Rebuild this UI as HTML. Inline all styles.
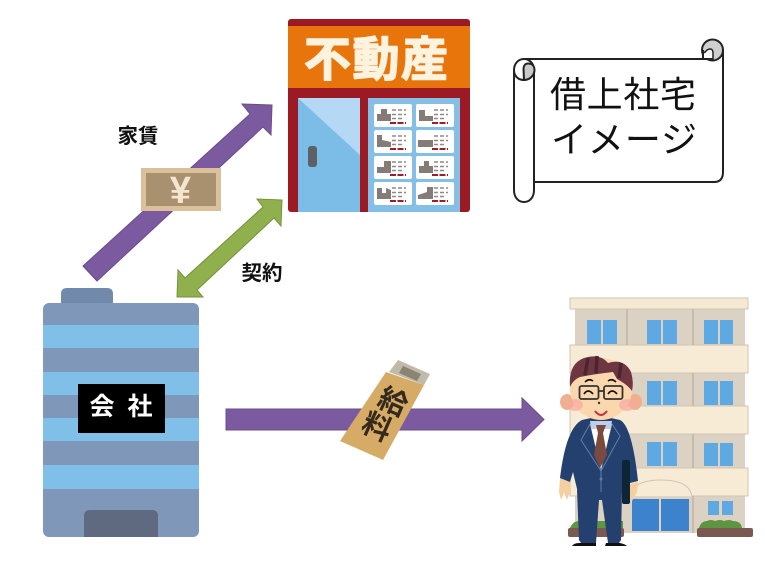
<!DOCTYPE html>
<html lang="ja"><head><meta charset="utf-8"><style>
html,body{margin:0;padding:0;background:#fff}
svg{display:block}
text{font-family:"Liberation Sans","Noto Sans CJK JP",sans-serif}
</style></head><body>
<svg width="765" height="574" viewBox="0 0 765 574" xmlns="http://www.w3.org/2000/svg">
<rect width="765" height="574" fill="#fff"/>

<!-- Real estate shop -->
<rect x="288" y="19" width="182" height="193" rx="3" fill="#9c1a24"/>
<rect x="288" y="26" width="182" height="62" fill="#e8740c"/>
<text x="376" y="76" font-size="47" font-weight="700" fill="#fdf3df" stroke="#fdf3df" stroke-width="1.500" stroke-linejoin="round" text-anchor="middle" textLength="144" lengthAdjust="spacing">不動産</text>
<rect x="298" y="98" width="62" height="114" fill="#7cbde8"/>
<polygon points="298,98 360,98 360,155" fill="#b5d9f4"/>
<rect x="308" y="146" width="9" height="21" rx="3" fill="#5d6065"/>
<rect x="368" y="98" width="92" height="114" fill="#85bfe6"/>
<g id="cards">
<g fill="#fff">
<rect x="374" y="104" width="38" height="23" rx="2"/><rect x="416" y="104" width="38" height="23" rx="2"/>
<rect x="374" y="130" width="38" height="23" rx="2"/><rect x="416" y="130" width="38" height="23" rx="2"/>
<rect x="374" y="156" width="38" height="23" rx="2"/><rect x="416" y="156" width="38" height="23" rx="2"/>
<rect x="374" y="182" width="38" height="23" rx="2"/><rect x="416" y="182" width="38" height="23" rx="2"/>
</g>
<g fill="#857c78">
<polygon points="377,121 377,114 381,114 381,109 387,109 387,114 391,114 391,121"/>
<polygon points="419,121 419,110 425,110 425,116 433,116 433,121"/>
<polygon points="377,147 377,135 382,135 382,140 391,142 391,147"/>
<rect x="418" y="140" width="15" height="7"/>
<polygon points="377,173 377,167 384,167 384,161 391,161 391,173"/>
<polygon points="419,173 419,166 424,166 424,161 429,161 429,166 433,166 433,173"/>
<polygon points="377,199 377,188 382,188 382,193 386,193 386,188 391,190 391,199"/>
<polygon points="418,199 418,195 427,192 427,187 433,187 433,199"/>
</g>
<g fill="none" stroke="#8d8a88" stroke-width="1.600" stroke-dasharray="4 2">
<path d="M392 110h14M392 114.500h14M392 118.500h12"/><path d="M434 110h14M434 114.500h14M434 118.500h12"/>
<path d="M392 136h14M392 140.500h14M392 144.500h12"/><path d="M434 136h14M434 140.500h14M434 144.500h12"/>
<path d="M392 162h14M392 166.500h14M392 170.500h12"/><path d="M434 162h14M434 166.500h14M434 170.500h12"/>
<path d="M392 188h14M392 192.500h14M392 196.500h12"/><path d="M434 188h14M434 192.500h14M434 196.500h12"/>
</g>
<g fill="none" stroke="#a01c28" stroke-width="2" stroke-dasharray="6 1.500">
<path d="M390 123h16M432 123h16M390 149h16M432 149h16M390 175h16M432 175h16M390 201h16M432 201h16"/>
</g>
</g>

<!-- Scroll -->
<g stroke="#222" stroke-width="2">
<path d="M524 59H712C718 59 723 55 723 50V172Q723 182 714 182H534V70C534 65 531 63 528 63H524Z" fill="#fff"/>
<circle cx="712.500" cy="50" r="10.500" fill="#cfcfcf"/>
<path d="M703 59V50C703 53 705 53 706 51C709 48 713 48 713 53V59Z" fill="#fff" stroke-width="1.500"/>
<path d="M703 59V50M712 59H703" fill="none"/>
<path d="M524 59C518 59 514 64 514 70V190C514 197 518 202 524 202C530 202 534 197 534 190V70C534 63 529 59 524 59Z" fill="#fff"/>
<path d="M524 80C530 80 534.500 75 534.500 70C534.500 65 531 63.500 528 63.500C525 63.500 523.500 66 523.500 69Z" fill="#c9c9c9"/>
<path d="M514 70C514 76 518 80 524 80" fill="none"/>
</g>
<text x="623" y="107" font-size="36" fill="#111" text-anchor="middle" textLength="146" lengthAdjust="spacing">借上社宅</text>
<text x="624" y="152" font-size="36" fill="#111" text-anchor="middle" textLength="146" lengthAdjust="spacing">イメージ</text>

<!-- Rent arrow -->
<polygon points="83,266 250,114 242,104 272,105 271,135 263,127 97,281" fill="#7b5aa0" stroke="#6a4d8c" stroke-width="1"/>
<rect x="141" y="168" width="80" height="43" fill="#dcc09b"/>
<rect x="146" y="173" width="70" height="33" fill="#a9916f"/>
<text x="180.500" y="203" font-size="38" font-weight="700" fill="#f3e5cf" text-anchor="middle">¥</text>
<text x="138" y="143" font-size="20.500" font-weight="700" fill="#111" text-anchor="middle">家賃</text>

<!-- Contract arrow -->
<polygon points="282,200 257,199 263,207 185,278 178,270 177,297 203,297 197,290 274,218 281,226" fill="#8fb04d" stroke="#74923c" stroke-width="1"/>
<text x="262" y="280" font-size="20.500" font-weight="700" fill="#111" text-anchor="middle">契約</text>

<!-- Company -->
<path d="M61 303V294Q61 288 67 288H107Q113 288 113 294V303Z" fill="#7189aa"/>
<rect x="43" y="303" width="156" height="234" rx="6" fill="#7f98ba"/>
<g fill="#80c0e8">
<rect x="43" y="325" width="156" height="23"/>
<rect x="43" y="372" width="156" height="23"/>
<rect x="43" y="418" width="156" height="23"/>
<rect x="43" y="465" width="156" height="24"/>
</g>
<path d="M84 537V516Q84 510 90 510H152Q158 510 158 516V537Z" fill="#5f6a80"/>
<rect x="78" y="384" width="87" height="49" fill="#000"/>
<text x="102" y="415" font-size="25" font-weight="700" fill="#fff" text-anchor="middle">会</text>
<text x="140" y="415" font-size="25" font-weight="700" fill="#fff" text-anchor="middle">社</text>

<!-- Salary arrow -->
<polygon points="226,409 522,409 522,398 544,419.500 522,441 522,430 226,430" fill="#7b5aa0" stroke="#6a4d8c" stroke-width="1"/>
<polygon points="398,360 430,374 424,385 389,372" fill="#c2baa8"/>
<polygon points="403,366 421,374 417,381 399,373" fill="#8a8572"/>
<polygon points="386,372 424,385 383,460 340,441" fill="#d6ab66"/>
<g transform="translate(393,402) rotate(24)"><text x="0" y="10" font-size="29" font-weight="700" fill="#33291c" text-anchor="middle">給</text></g>
<g transform="translate(377,427) rotate(24)"><text x="0" y="10" font-size="29" font-weight="700" fill="#33291c" text-anchor="middle">料</text></g>

<!-- Apartment -->
<rect x="575" y="308" width="170" height="225" fill="#dcd2c4"/>
<rect x="570" y="298" width="178" height="11" fill="#f6e9d2" stroke="#cfc5b5"/>
<rect x="570" y="345" width="178" height="28" fill="#f8ebd5" stroke="#cfc5b5"/>
<rect x="570" y="406" width="178" height="28" fill="#f8ebd5" stroke="#cfc5b5"/>
<rect x="570" y="468" width="178" height="28" fill="#f8ebd5" stroke="#cfc5b5"/>
<path d="M627 309v36M693 309v36M693 373v33M693 434v34M693 496v37" stroke="#c7bbaa" stroke-width="2"/>
<g fill="#5ea9e2">
<rect x="587" y="320" width="14" height="24"/><rect x="603" y="320" width="14" height="24"/>
<rect x="647" y="320" width="14" height="24"/><rect x="663" y="320" width="14" height="24"/>
<rect x="704" y="320" width="14" height="24"/><rect x="720" y="320" width="13" height="24"/>
<rect x="647" y="381" width="14" height="24"/><rect x="663" y="381" width="14" height="24"/>
<rect x="704" y="381" width="14" height="24"/><rect x="720" y="381" width="13" height="24"/>
<rect x="647" y="442" width="14" height="24"/><rect x="663" y="442" width="14" height="24"/>
<rect x="704" y="443" width="14" height="23"/><rect x="720" y="443" width="13" height="23"/>
<rect x="708" y="501" width="11" height="14"/><rect x="722" y="501" width="11" height="14"/>
</g>
<path d="M630 497Q632 480 661 480Q690 480 692 497Z" fill="#f8ebd5" stroke="#cfc5b5"/>
<rect x="630" y="497" width="62" height="36" fill="#dcd2c4"/>
<rect x="632" y="499" width="27" height="32" fill="#3c82cc"/>
<rect x="661" y="499" width="28" height="32" fill="#3c82cc"/>
<path d="M699 528q2-7 8-7 4-2 8 0 5-2 9 0 5-2 9 0 8 0 9 7Z" fill="#5f9440"/>
<rect x="697" y="528" width="56" height="9" rx="2" fill="#7a5a50"/>
<path d="M570 528q3-7 9-7h44v7Z" fill="#5f9440"/>
<rect x="568" y="528" width="56" height="9" rx="2" fill="#7a5a50"/>

<!-- Person -->
<path d="M560 478L570 480 570 492 567 500 564 493 561 500 559 492Z" fill="#f5cfa0"/>
<path d="M630 484L638 482 637 492 632 501 628 498Z" fill="#f5cfa0"/>
<path d="M577 490H622L621 540 619 543H608L602 500H599L596 543H581L579 540Z" fill="#24406f"/>
<path d="M579 543H596V546H572Q574 543 579 543ZM606 543H620Q625 544 627 546H605Z" fill="#111"/>
<path d="M582 420L591 418H611L620 420Q632 426 638 481L630 483 626 470 622 493H578L573 472 570 482 560 478Q566 428 582 420Z" fill="#24406f"/>
<polygon points="590,424 612,424 601,470" fill="#fff"/>
<polygon points="590,421 612,421 611,429 591,429" fill="#c0cdea"/>
<polygon points="596,425 606,425 603,433 607,455 600,468 594,455 598,433" fill="#7a4a3e"/>
<rect x="622" y="460" width="8" height="44" rx="2" fill="#0c2636"/>
<path d="M590 424L581 440 601 471 620 436 612 424M601 471V492" fill="none" stroke="#5f7ea8" stroke-width="1"/>
<circle cx="601" cy="479" r="1.500" fill="#5f7ea8"/>
<ellipse cx="567" cy="402" rx="7" ry="8" fill="#f0b090"/>
<ellipse cx="635" cy="402" rx="7" ry="8" fill="#f0b090"/>
<ellipse cx="601" cy="389" rx="31" ry="31" fill="#fbd7ae"/>
<ellipse cx="575" cy="405" rx="8" ry="6" fill="#f5a9a0" opacity=".7"/>
<ellipse cx="627" cy="405" rx="8" ry="6" fill="#f5a9a0" opacity=".7"/>
<path d="M570 387Q568 364 584 358Q600 353 608 363Q624 358 631 372Q634 382 632 391Q628 385 617 379L613 372Q595 374 580 377Q573 380 570 387Z" fill="#6d3640"/>
<path d="M588 358l-3 17M597 356l-1 17M621 363l-2 15" stroke="#4a2530" stroke-width="3.500"/>
<g fill="none" stroke="#333" stroke-width="1.800">
<rect x="579.500" y="386" width="19" height="13" rx="2"/><rect x="604" y="386" width="18.500" height="13" rx="2"/><path d="M598 391h6"/>
</g>
<path d="M584 394q4-6 9 0M608 394q4-6 9 0M585 382q4-4 8-1M608 381q4-3 8 1" fill="none" stroke="#111" stroke-width="1.700"/>
<circle cx="599" cy="403" r="1.200" fill="#333"/>
<path d="M595 411q6 8 12 0" fill="none" stroke="#c6304a" stroke-width="2"/>
</svg>
</body></html>
